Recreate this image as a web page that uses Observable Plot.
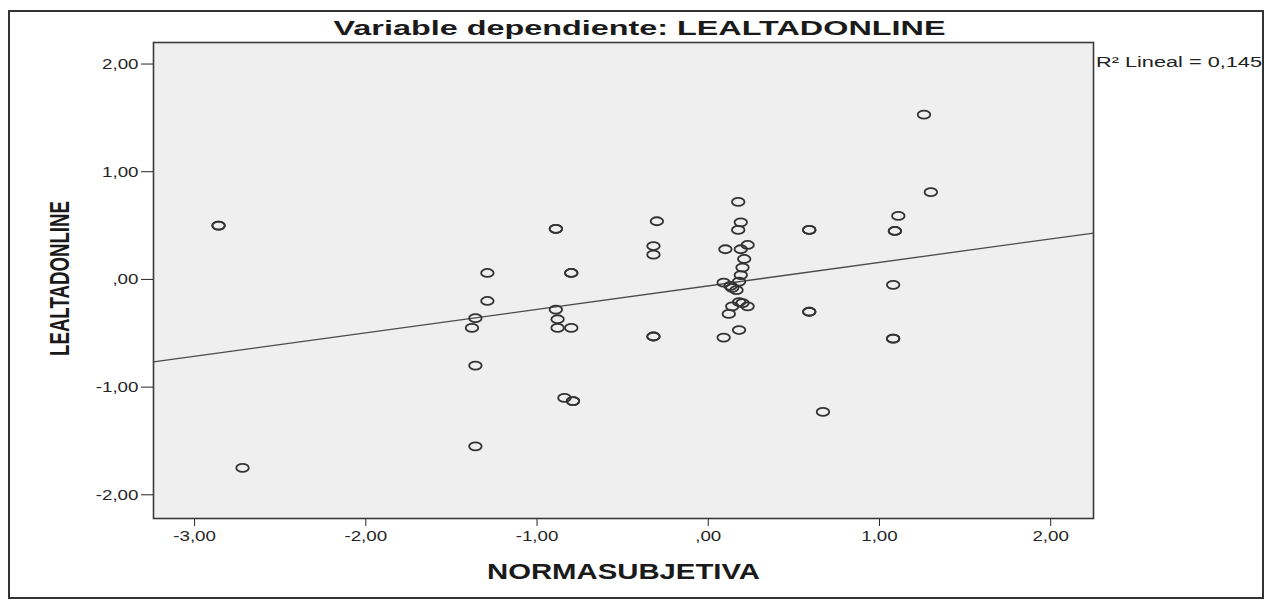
<!DOCTYPE html>
<html>
<head>
<meta charset="utf-8">
<script src="https://cdn.jsdelivr.net/npm/d3@7"></script>
<script src="https://cdn.jsdelivr.net/npm/@observablehq/plot@0.6"></script>
<style>
  html, body { margin: 0; padding: 0; background: #fff; }
  #wrap { position: relative; width: 1272px; height: 604px; overflow: hidden; }
  #border { position: absolute; left: 8px; top: 10px; width: 1256px; height: 589px; box-sizing: border-box; border: 2px solid #333; }
  #chart { position: absolute; left: 0; top: 0; }
  #r2 { position: absolute; left: 1096px; top: 54px; font: 14px/16px 'Liberation Sans', Arial, sans-serif; color: #222; white-space: nowrap; transform-origin: 0 50%; }
</style>
</head>
<body>
<div id="wrap"><div id="border"></div><div id="chart"></div><span id="r2"></span></div>
<script>
// ---- data ----
const titleText = "Variable dependiente: LEALTADONLINE";
const xLabel = "NORMASUBJETIVA";
const yLabel = "LEALTADONLINE";
const r2Text = "R\u00B2 Lineal = 0,145";
const xTicks = [-3, -2, -1, 0, 1, 2];
const yTicks = [-2, -1, 0, 1, 2];

const normaSubjetiva = [
  -2.86, -2.86, -2.72,
  -1.36, -1.38, -1.29, -1.29, -1.36, -1.36,
  -0.89, -0.89, -0.80, -0.80, -0.89, -0.88, -0.88, -0.80, -0.84, -0.79, -0.79,
  -0.30, -0.32, -0.32, -0.32, -0.32,
  0.09, 0.10, 0.175, 0.19, 0.175, 0.19, 0.23, 0.21, 0.20, 0.19, 0.18, 0.09, 0.13, 0.165, 0.14,
  0.18, 0.20, 0.23, 0.14, 0.12, 0.18,
  0.59, 0.59, 0.59, 0.59, 0.67,
  1.11, 1.09, 1.09, 1.08, 1.08, 1.08, 1.30, 1.26
];
const lealtadOnline = [
  0.50, 0.50, -1.75,
  -0.36, -0.45, 0.06, -0.20, -0.80, -1.55,
  0.47, 0.47, 0.06, 0.06, -0.28, -0.37, -0.45, -0.45, -1.10, -1.13, -1.13,
  0.54, 0.31, 0.23, -0.53, -0.53,
  -0.54, 0.28, 0.72, 0.53, 0.46, 0.28, 0.32, 0.19, 0.11, 0.04, -0.02, -0.03, -0.06, -0.10, -0.08,
  -0.21, -0.22, -0.25, -0.25, -0.32, -0.47,
  0.46, 0.46, -0.30, -0.30, -1.23,
  0.59, 0.45, 0.45, -0.05, -0.55, -0.55, 0.81, 1.53
];
const regIntercept = -0.06;
const regSlope = 0.218;
const regXRange = [-3.24, 2.25];

// ---- build tables ----
const points = normaSubjetiva.map((x, i) => ({x, y: lealtadOnline[i]}));
const regLine = regXRange.map(x => ({x, y: regIntercept + regSlope * x}));

const fmt = d => {
  let s = Math.abs(d).toFixed(2).replace(".", ",");
  if (s.startsWith("0")) s = s.slice(1);
  return (d < 0 ? "-" : "") + s;
};

// elliptical open marker (as in the scanned SPSS output)
const ellipse = {
  draw(ctx, size) {
    const r = Math.sqrt(size / Math.PI);
    const rx = r * 1.25, ry = r * 0.8, k = 0.5523;
    ctx.moveTo(rx, 0);
    ctx.bezierCurveTo(rx, ry * k, rx * k, ry, 0, ry);
    ctx.bezierCurveTo(-rx * k, ry, -rx, ry * k, -rx, 0);
    ctx.bezierCurveTo(-rx, -ry * k, -rx * k, -ry, 0, -ry);
    ctx.bezierCurveTo(rx * k, -ry, rx, -ry * k, rx, 0);
    ctx.closePath();
  }
};

const chart = Plot.plot({
  width: 1272,
  height: 604,
  marginLeft: 153,
  marginRight: 179,
  marginTop: 42,
  marginBottom: 86,
  style: {background: "transparent", fontFamily: "'Liberation Sans', Arial, sans-serif", fontSize: "15px", color: "#262626"},
  x: {domain: [-3.24, 2.25], ticks: xTicks, tickFormat: fmt, tickSize: 8, tickPadding: 4, label: null},
  y: {domain: [-2.22, 2.2], ticks: yTicks, tickFormat: fmt, tickSize: 12, tickPadding: 3, label: null},
  marks: [
    Plot.frame({fill: "#efefef", stroke: null}),
    Plot.line(regLine, {x: "x", y: "y", stroke: "#4a4a4a", strokeWidth: 1.3}),
    Plot.dot(points, {x: "x", y: "y", symbol: ellipse, r: 5, stroke: "#333", strokeWidth: 1.8, fill: "none"}),
    Plot.frame({stroke: "#3a3a3a", strokeWidth: 1.6}),
    Plot.text([titleText], {frameAnchor: "top", dx: 16, dy: -14, lineAnchor: "middle", fontSize: 21, fontWeight: "bold", fill: "#1a1a1a"}),
    Plot.text([xLabel], {frameAnchor: "bottom", dy: 53, lineAnchor: "middle", fontSize: 22, fontWeight: "bold", fill: "#1a1a1a"}),
    Plot.text([yLabel], {frameAnchor: "left", dx: -93, dy: -2, rotate: -90, textAnchor: "middle", lineAnchor: "middle", fontSize: 27, fontWeight: "bold", fontFamily: "'Liberation Sans Narrow', 'Liberation Sans', Arial, sans-serif", fill: "#1a1a1a"})
  ]
});

document.getElementById("chart").append(chart);

// horizontal stretch of the scanned tick labels
chart.querySelectorAll('g[aria-label$="tick label"] text, .tick text').forEach(t => {
  const w = t.getComputedTextLength();
  if (w > 0) {
    t.setAttribute("textLength", (w * 1.25).toFixed(1));
    t.setAttribute("lengthAdjust", "spacingAndGlyphs");
  }
});
// stretch of the title and axis titles
const targets = [[titleText, 612], [xLabel, 273], [yLabel, 155]];
const allTexts = [...chart.querySelectorAll("text")];
for (const [key, len] of targets) {
  allTexts.filter(t => t.textContent === key).forEach(t => {
    t.setAttribute("textLength", len);
    t.setAttribute("lengthAdjust", "spacingAndGlyphs");
  });
}
// R² note beside the plot frame
const r2 = document.getElementById("r2");
r2.textContent = r2Text;
const r2w = r2.getBoundingClientRect().width;
if (r2w > 0) r2.style.transform = `scaleX(${(166 / r2w).toFixed(3)})`;
</script>
</body>
</html>
